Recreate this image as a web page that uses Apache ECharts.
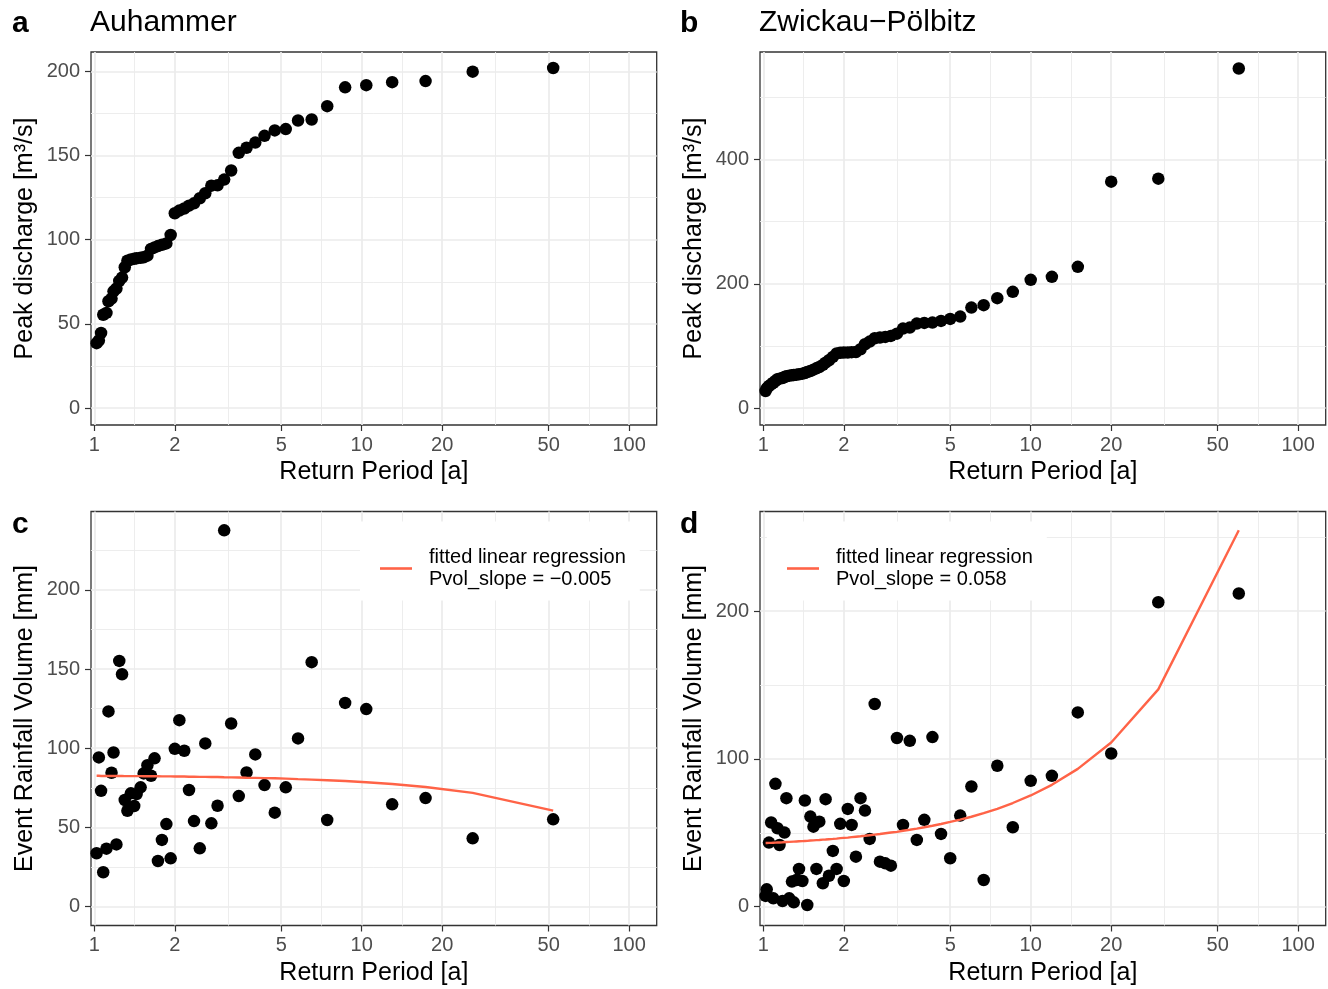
<!DOCTYPE html>
<html><head><meta charset="utf-8">
<script src="https://cdn.jsdelivr.net/npm/echarts@6/dist/echarts.min.js"></script>
<style>html,body{margin:0;padding:0;background:#fff}#chart{width:1328px;height:989px}</style>
</head><body><div id="chart"></div>
<script>
// ---------------- data ----------------
const xTickLabels = ['1', '2', '5', '10', '20', '50', '100'];
const xMinorBreaks = [1.414, 3.162, 7.071, 14.14, 31.62, 70.71];
const xLimits = [0.972, 126.8];

const panelTags = ['a', 'b', 'c', 'd'];
const panelTitles = ['Auhammer', 'Zwickau\u2212Pölbitz', '', ''];
const yTitles = ['Peak discharge [m³/s]', 'Peak discharge [m³/s]', 'Event Rainfall Volume [mm]', 'Event Rainfall Volume [mm]'];
const xTitle = 'Return Period [a]';

const returnPeriodAuhammer = [52, 26, 17.33, 13, 10.4, 8.67, 7.43, 6.5, 5.78, 5.2, 4.73, 4.33, 4, 3.71, 3.47, 3.25, 3.06, 2.89, 2.74, 2.6,
  2.48, 2.36, 2.26, 2.17, 2.08, 2, 1.93, 1.86, 1.79, 1.73, 1.68, 1.63, 1.58, 1.53, 1.49, 1.44, 1.41, 1.37, 1.33, 1.3,
  1.27, 1.24, 1.21, 1.18, 1.16, 1.13, 1.11, 1.08, 1.06, 1.04, 1.02];
const peakAuhammer = [202.0, 199.8, 194.2, 193.6, 191.8, 190.5, 179.3, 171.4, 170.8, 165.7, 164.9, 161.7, 157.7, 154.6, 151.6, 141.1, 135.7, 132.3, 132.1, 127.6,
  124.6, 121.6, 120.2, 118.5, 117.3, 115.7, 102.8, 97.8, 97.0, 96.2, 95.4, 94.5, 90.5, 89.5, 89.2, 88.9, 88.6, 88.2, 87.5, 83.6,
  77.5, 75.5, 71.0, 69.3, 65.0, 63.4, 56.5, 55.4, 44.6, 40.1, 38.5];
const rainAuhammer = [55.1, 43.1, 68.5, 64.6, 124.7, 128.6, 54.7, 154.3, 106.2, 75.3, 59.3, 76.7, 96.1, 84.7, 69.8, 115.6, 237.5, 63.7, 52.6, 103.0,
  36.8, 54.0, 73.6, 98.4, 117.7, 99.6, 30.5, 52.1, 42.1, 28.8, 93.6, 82.6, 89.3, 84.1, 75.3, 71.1, 63.5, 71.5, 60.5, 67.3,
  146.7, 155.1, 39.3, 97.3, 84.5, 123.2, 36.6, 21.7, 73.1, 94.2, 33.7];
const fitAuhammer = [60.6, 71.8, 75.5, 77.4, 78.5, 79.3, 79.8, 80.2, 80.5, 80.8, 81.0, 81.1, 81.3, 81.4, 81.5, 81.6, 81.7, 81.8, 81.8, 81.9,
  81.9, 82.0, 82.0, 82.1, 82.1, 82.1, 82.2, 82.2, 82.2, 82.3, 82.3, 82.3, 82.3, 82.3, 82.4, 82.4, 82.4, 82.4, 82.4, 82.4,
  82.5, 82.5, 82.5, 82.5, 82.5, 82.5, 82.5, 82.5, 82.5, 82.6, 82.6];

const returnPeriodZwickau = [60, 30, 20, 15, 12, 10, 8.57, 7.5, 6.67, 6, 5.45, 5, 4.62, 4.29, 4, 3.75, 3.53, 3.33, 3.16, 3,
  2.86, 2.73, 2.61, 2.5, 2.4, 2.31, 2.22, 2.14, 2.07, 2, 1.94, 1.88, 1.82, 1.76, 1.71, 1.67, 1.62, 1.58, 1.54, 1.5,
  1.46, 1.43, 1.4, 1.36, 1.33, 1.3, 1.28, 1.25, 1.22, 1.2, 1.18, 1.15, 1.13, 1.11, 1.09, 1.07, 1.05, 1.03, 1.02];
const peakZwickau = [546.8, 369.4, 364.5, 227.4, 211.3, 206.5, 187.1, 176.9, 165.6, 161.8, 147.3, 143.5, 140.3, 137.6, 137.1, 136.0, 129.5, 127.9, 119.8, 116.1,
  114.5, 113.4, 112.4, 107.0, 102.7, 94.7, 90.3, 90.0, 89.5, 89.3, 89.0, 88.0, 82.3, 76.9, 73.1, 69.4, 66.1, 64.0, 61.8, 59.7,
  58.1, 56.5, 55.3, 54.3, 53.8, 53.2, 52.7, 52.1, 51.1, 50.0, 48.4, 47.3, 46.3, 43.5, 40.8, 38.2, 35.5, 31.8, 27.4];
const rainZwickau = [212.0, 206.1, 103.7, 131.5, 88.6, 85.2, 53.8, 95.4, 18.1, 81.4, 61.7, 32.8, 49.3, 114.8, 58.8, 45.2, 112.3, 55.4, 114.2, 27.8,
  29.4, 30.5, 137.2, 45.9, 65.1, 73.5, 33.9, 55.4, 66.2, 17.4, 56.1, 25.6, 37.8, 21.0, 72.8, 15.9, 57.6, 25.6, 54.2, 61.0,
  1.2, 71.9, 17.4, 25.6, 18.1, 3.0, 17.0, 5.7, 73.5, 50.2, 3.9, 41.8, 53.1, 83.2, 5.7, 57.0, 43.4, 11.8, 7.3];
const fitZwickau = [254.8, 147.1, 111.2, 93.3, 82.5, 75.3, 70.2, 66.3, 63.3, 60.9, 59.0, 57.4, 56.0, 54.8, 53.8, 52.9, 52.1, 51.4, 50.7, 50.2,
  49.7, 49.2, 48.8, 48.4, 48.0, 47.7, 47.4, 47.1, 46.8, 46.6, 46.4, 46.1, 45.9, 45.7, 45.5, 45.4, 45.2, 45.1, 44.9, 44.8,
  44.6, 44.5, 44.4, 44.3, 44.2, 44.1, 44.0, 43.9, 43.8, 43.7, 43.6, 43.5, 43.5, 43.4, 43.3, 43.2, 43.2, 43.1, 43.1];

const yTicksA = [0, 50, 100, 150, 200];   const yMinorA = [25, 75, 125, 175];   const yLimitsA = [-10.1, 211.5];
const yTicksB = [0, 200, 400];            const yMinorB = [100, 300, 500];       const yLimitsB = [-27.3, 573.3];
const yTicksC = [0, 50, 100, 150, 200];   const yMinorC = [25, 75, 125, 175, 225]; const yLimitsC = [-11.9, 249.4];
const yTicksD = [0, 100, 200];            const yMinorD = [50, 150, 250];        const yLimitsD = [-12.7, 267.5];

const legendTextC = ['fitted linear regression', 'Pvol_slope = \u22120.005'];
const legendTextD = ['fitted linear regression', 'Pvol_slope = 0.058'];

// ---------------- layout / style ----------------
const FONT = '"Liberation Sans", Arial, Helvetica, sans-serif';
const FIT_COLOR = '#FF6347';
const layout = [
  {left: 91, top: 52, width: 565.7, height: 373},
  {left: 760, top: 52, width: 565.7, height: 373},
  {left: 91, top: 511.5, width: 565.7, height: 414},
  {left: 760, top: 511.5, width: 565.7, height: 414}
];
const yTicksAll = [yTicksA, yTicksB, yTicksC, yTicksD];
const yMinorAll = [yMinorA, yMinorB, yMinorC, yMinorD];
const yLimitsAll = [yLimitsA, yLimitsB, yLimitsC, yLimitsD];

const xTickValues = xTickLabels.map(Number);
const xTickLog = xTickValues.map(v => Math.log10(v));
const xMinorLog = xMinorBreaks.map(v => Math.log10(v));
const xLogLimits = xLimits.map(v => Math.log10(v));

const grid = [], xAxis = [], yAxis = [], series = [], title = [];

layout.forEach((L, g) => {
  grid.push({left: L.left, top: L.top, width: L.width, height: L.height, show: true,
    borderColor: '#333333', borderWidth: 1.3, backgroundColor: '#fff', containLabel: false});
  // data axis (log scale), hidden
  xAxis.push({type: 'log', gridIndex: g, position: 'bottom', min: xLimits[0], max: xLimits[1], show: false,
    axisTick: {show: false}, axisLabel: {show: false}, splitLine: {show: false}, axisLine: {show: false}});
  // major ticks / labels / grid (in log10 space)
  xAxis.push({type: 'value', gridIndex: g, position: 'bottom', min: xLogLimits[0], max: xLogLimits[1],
    axisLine: {show: false, onZero: false},
    axisTick: {show: true, inside: false, length: 6, lineStyle: {color: '#333333', width: 1.2}, customValues: xTickLog},
    axisLabel: {show: true, inside: false, customValues: xTickLog, margin: 10, color: '#4D4D4D', fontSize: 20, fontFamily: FONT,
      formatter: v => { const i = xTickLog.findIndex(t => Math.abs(t - v) < 1e-6); return i >= 0 ? xTickLabels[i] : ''; }},
    splitLine: {show: true, lineStyle: {color: '#EBEBEB', width: 1.7}},
    name: xTitle, nameLocation: 'middle', nameGap: 35,
    nameTextStyle: {color: '#000', fontSize: 25, fontFamily: FONT}
  });
  // minor grid
  xAxis.push({type: 'value', gridIndex: g, position: 'bottom', min: xLogLimits[0], max: xLogLimits[1],
    axisLine: {show: false, onZero: false}, axisLabel: {show: false},
    axisTick: {show: false, customValues: xMinorLog},
    splitLine: {show: true, lineStyle: {color: '#EBEBEB', width: 0.9}}
  });
  const yl = yLimitsAll[g];
  yAxis.push({type: 'value', gridIndex: g, position: 'left', min: yl[0], max: yl[1],
    axisLine: {show: false, onZero: false},
    axisTick: {show: true, inside: false, length: 6, lineStyle: {color: '#333333', width: 1.2}, customValues: yTicksAll[g]},
    axisLabel: {show: true, inside: false, customValues: yTicksAll[g], margin: 11, color: '#4D4D4D', fontSize: 20, fontFamily: FONT},
    splitLine: {show: true, lineStyle: {color: '#EBEBEB', width: 1.7}},
    name: yTitles[g], nameLocation: 'middle', nameGap: 53, nameRotate: 90,
    nameTextStyle: {color: '#000', fontSize: 25, fontFamily: FONT}
  });
  yAxis.push({type: 'value', gridIndex: g, position: 'left', min: yl[0], max: yl[1],
    axisLine: {show: false, onZero: false}, axisLabel: {show: false},
    axisTick: {show: false, customValues: yMinorAll[g]},
    splitLine: {show: true, lineStyle: {color: '#EBEBEB', width: 0.9}}
  });
  title.push({text: panelTags[g], left: L.left - (g % 2 === 0 ? 79 : 80), top: g < 2 ? 8.5 : 509.5, padding: 0,
    textStyle: {fontSize: 30, fontWeight: 'bold', color: '#000', fontFamily: FONT}});
  if (panelTitles[g]) {
    title.push({text: panelTitles[g], left: L.left - 1, top: 8, padding: 0,
      textStyle: {fontSize: 30, fontWeight: 'normal', color: '#000', fontFamily: FONT}});
  }
});

function pairs(xs, ys) { return xs.map((x, i) => [x, ys[i]]); }
const scatterStyle = {type: 'scatter', symbol: 'circle', symbolSize: 12.5, itemStyle: {color: '#000', opacity: 1}, z: 3, silent: true};

series.push(Object.assign({name: 'ptsA', xAxisIndex: 0, yAxisIndex: 0, data: pairs(returnPeriodAuhammer, peakAuhammer)}, scatterStyle));
series.push(Object.assign({name: 'ptsB', xAxisIndex: 3, yAxisIndex: 2, data: pairs(returnPeriodZwickau, peakZwickau)}, scatterStyle));
series.push(Object.assign({name: 'ptsC', xAxisIndex: 6, yAxisIndex: 4, data: pairs(returnPeriodAuhammer, rainAuhammer)}, scatterStyle));
series.push(Object.assign({name: 'ptsD', xAxisIndex: 9, yAxisIndex: 6, data: pairs(returnPeriodZwickau, rainZwickau)}, scatterStyle));
series.push({name: 'fitC', type: 'line', xAxisIndex: 6, yAxisIndex: 4, data: pairs(returnPeriodAuhammer, fitAuhammer),
  symbol: 'none', showSymbol: false, z: 4, silent: true,
  lineStyle: {color: FIT_COLOR, width: 2.4}, itemStyle: {color: FIT_COLOR}});
series.push({name: 'fitD', type: 'line', xAxisIndex: 9, yAxisIndex: 6, data: pairs(returnPeriodZwickau, fitZwickau),
  symbol: 'none', showSymbol: false, z: 4, silent: true,
  lineStyle: {color: FIT_COLOR, width: 2.4}, itemStyle: {color: FIT_COLOR}});

const legendBase = {orient: 'vertical', itemWidth: 32, itemHeight: 2.6, itemGap: 0, selectedMode: false,
  padding: [25, 14, 10, 20], backgroundColor: '#fff', z: 10,
  textStyle: {fontSize: 20, color: '#000', fontFamily: FONT, lineHeight: 22, padding: [0, 0, 0, 12]}};
const legend = [
  Object.assign({}, legendBase, {left: 360, top: 521.5, data: [{name: 'fitC', icon: 'rect', itemStyle: {color: FIT_COLOR}}],
    formatter: () => legendTextC.join('\n')}),
  Object.assign({}, legendBase, {left: 767, top: 521.5, data: [{name: 'fitD', icon: 'rect', itemStyle: {color: FIT_COLOR}}],
    formatter: () => legendTextD.join('\n')})
];

const chart = echarts.init(document.getElementById('chart'), null, {renderer: 'canvas'});
chart.setOption({
  backgroundColor: '#fff',
  animation: false,
  title, grid, xAxis, yAxis, series, legend
});
</script>
</body></html>
